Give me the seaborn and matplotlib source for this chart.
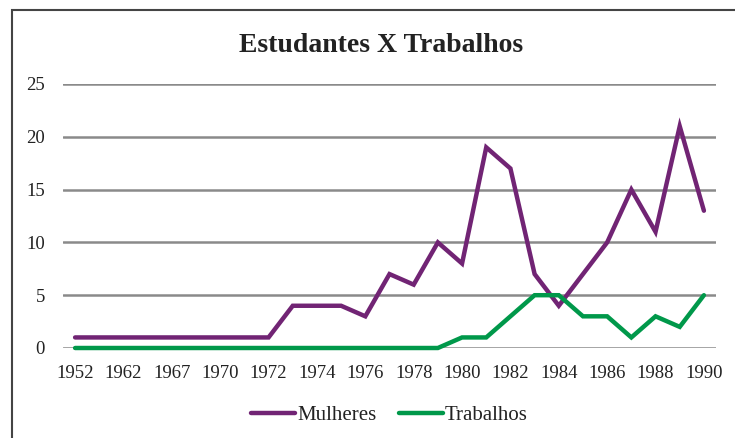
import numpy as np
import pandas as pd
import matplotlib
matplotlib.use("Agg")
import matplotlib.pyplot as plt
import seaborn as sns
from matplotlib.patches import Rectangle

# Data
anos = ["1952", "1958", "1962", "1965", "1967", "1969", "1970", "1971", "1972",
        "1973", "1974", "1975", "1976", "1977", "1978", "1979", "1980", "1981",
        "1982", "1983", "1984", "1985", "1986", "1987", "1988", "1989", "1990"]
mulheres = [1, 1, 1, 1, 1, 1, 1, 1, 1, 4, 4, 4, 3, 7, 6, 10, 8, 19, 17, 7, 4, 7, 10, 15, 11, 21, 13]
trabalhos = [0, 0, 0, 0, 0, 0, 0, 0, 0, 0, 0, 0, 0, 0, 0, 0, 1, 1, 3, 5, 5, 3, 3, 1, 3, 2, 5]
series_names = ["Mulheres", "Trabalhos"]
cores = ["#712474", "#00984A"]

pos = np.arange(len(anos))
df = pd.DataFrame({
    "pos": np.concatenate([pos, pos]),
    "valor": mulheres + trabalhos,
    "serie": [series_names[0]] * len(anos) + [series_names[1]] * len(anos),
})

sns.set_theme(style="white")
plt.rcParams["font.family"] = ["Liberation Serif", "DejaVu Serif"]

fig = plt.figure(figsize=(7.35, 4.38), dpi=100)
ax = fig.add_axes([63 / 735, 1 - 348 / 438, (716 - 63) / 735, (348 - 84) / 438])

sns.lineplot(data=df, x="pos", y="valor", hue="serie", palette=cores,
             linewidth=3.2, ax=ax, legend=True, zorder=3)
for ln in ax.lines:
    ln.set_clip_on(False)
    ln.set_solid_capstyle("round")
    ln.set_solid_joinstyle("miter")

ax.set_ylim(0, 25)
ax.set_xlim(-0.5, len(anos) - 0.5)
ax.set_yticks([0, 5, 10, 15, 20, 25])
ax.set_xticks(pos[::2])
ax.set_xticklabels(anos[::2])
ax.tick_params(axis="both", length=0, labelsize=13.5, colors="#222222")
ax.tick_params(axis="y", pad=13)
ax.tick_params(axis="x", pad=12)
ax.yaxis.grid(True, color="#8a8a8a", linewidth=1.8)
ax.set_axisbelow(True)
for s in ax.spines.values():
    s.set_visible(False)
ax.set_xlabel("")
ax.set_ylabel("")

fig.text(0.518, 1 - 45 / 438, "Estudantes X Trabalhos", ha="center", va="center",
         fontsize=20, fontweight="bold", color="#222222")

handles, labels = ax.get_legend_handles_labels()
ax.legend(handles, labels, loc="center", bbox_to_anchor=(0.5, -0.255), ncol=2,
          frameon=False, fontsize=15, handlelength=2.1, handletextpad=0.1,
          columnspacing=1.1, labelcolor="#222222")

# outer frame around the chart
fig.patches.append(Rectangle((12 / 735, -0.2), 1.2, 1 - 10 / 438 + 0.2,
                             transform=fig.transFigure, fill=False,
                             edgecolor="#444444", linewidth=1.5, zorder=0))

fig.savefig("out.png", dpi=100)
